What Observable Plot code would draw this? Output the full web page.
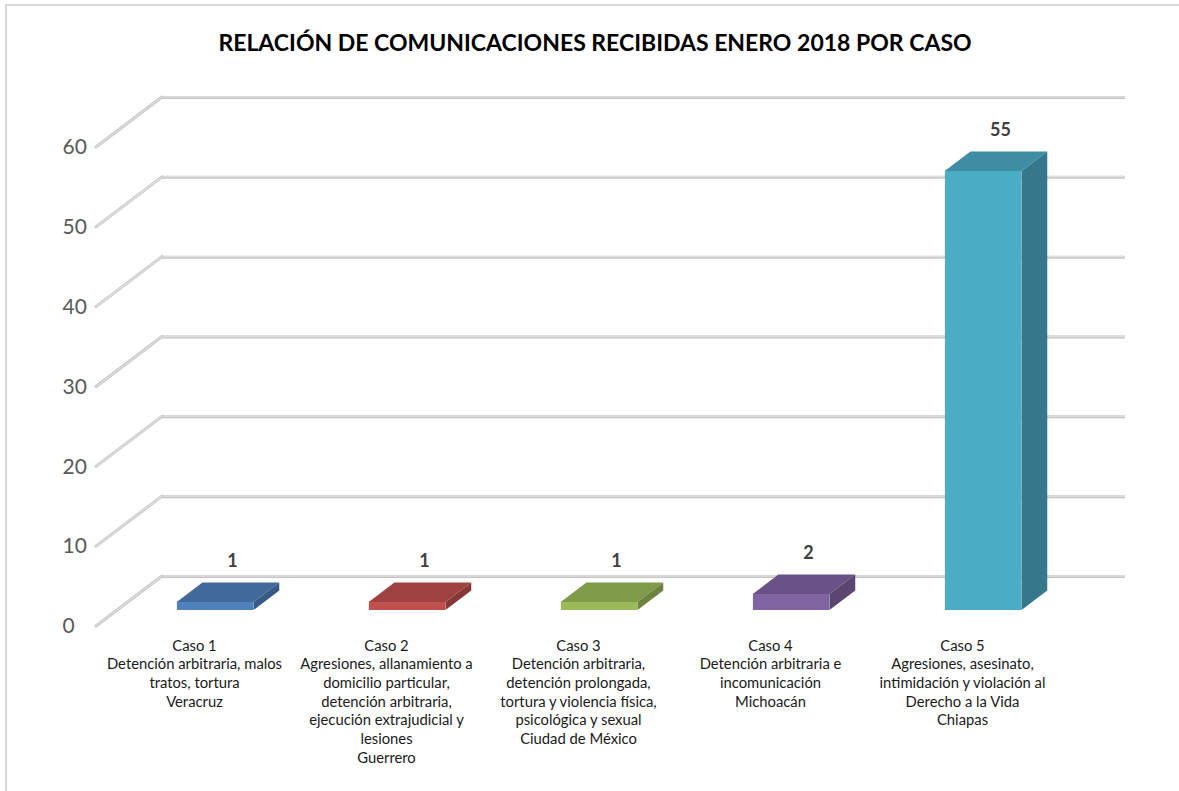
<!DOCTYPE html>
<html><head><meta charset="utf-8">
<script src="https://cdn.jsdelivr.net/npm/d3@7"></script>
<script src="https://cdn.jsdelivr.net/npm/@observablehq/plot@0.6"></script>
<style>
body{margin:0;background:#fff;font-family:Lato,sans-serif;width:1179px;height:791px;overflow:hidden;position:relative;}
#frame{position:absolute;left:5px;top:4px;width:1200px;height:820px;border-left:2px solid #d9d9d9;border-top:2px solid #d9d9d9;}
#title{position:absolute;left:0;top:29px;width:1190px;text-align:center;font-family:Lato,sans-serif;font-weight:bold;font-size:23px;line-height:1.2;color:#000;white-space:nowrap;}
#chart{position:absolute;left:0;top:70px;}
</style></head><body>
<div id="frame"></div>
<div id="title">RELACIÓN DE COMUNICACIONES RECIBIDAS ENERO 2018 POR CASO</div>
<div id="chart"></div>
<script>
const cases = ["Caso 1", "Caso 2", "Caso 3", "Caso 4", "Caso 5"];
const descriptions = [
  "Detención arbitraria, malos\ntratos, tortura",
  "Agresiones, allanamiento a\ndomicilio particular,\ndetención arbitraria,\nejecución extrajudicial y\nlesiones",
  "Detención arbitraria,\ndetención prolongada,\ntortura y violencia física,\npsicológica y sexual",
  "Detención arbitraria e\nincomunicación",
  "Agresiones, asesinato,\nintimidación y violación al\nDerecho a la Vida"
];
const states = ["Veracruz", "Guerrero", "Ciudad de México", "Michoacán", "Chiapas"];
const values = [1, 1, 1, 2, 55];
const caseColors = ["#4f81bd", "#c0504d", "#9bbb59", "#8064a2", "#4bacc6"];
const yTicks = [0, 10, 20, 30, 40, 50, 60];

const data = cases.map((c, i) => ({caso: c, value: values[i], color: caseColors[i]}));
const labelMap = new Map(cases.map((c, i) => [c, [c, descriptions[i], states[i]].join("\n")]));

// 3D projection layout (pixels)
const W = 1179, H = 721, ML = 96, MR = 120, MT = 77, MB = 165;
const DX = 66, DY = -50;      // depth of the floor/back wall
const F1 = 0.32, F2 = 0.71;   // bar front / back depth fractions
const BAR = 0.4;              // bar width as fraction of band
const bandW = (W - ML - MR) / cases.length;
const inset = bandW * (1 - BAR) / 2;

function sideGrid(index, scales, values, dims) {
  const y = scales.y;
  const g = d3.create("svg:g").attr("fill", "none");
  const x0 = dims.marginLeft;
  for (const t of yTicks) {
    g.append("path").attr("d", `M${x0},${y(t)}L${x0 + DX},${y(t) + DY}`)
      .attr("stroke", "#c4c4c4").attr("stroke-width", 3).attr("stroke-linecap", "round");
    g.append("path").attr("d", `M${x0},${y(t)}L${x0 + DX},${y(t) + DY}`)
      .attr("stroke", "#dedede").attr("stroke-width", 1.5).attr("stroke-linecap", "round");
  }
  return g.node();
}

function barDepthFaces(index, scales) {
  const {x, y} = scales;
  const g = d3.create("svg:g");
  const bw = x.bandwidth ? x.bandwidth() : bandW;
  const ox = DX * (F2 - F1), oy = DY * (F2 - F1);
  data.forEach((d) => {
    const xa = x(d.caso) + bw * (1 - BAR) / 2 + DX * F1;
    const xb = xa + bw * BAR;
    const yt = y(d.value) + DY * F1, yb = y(0) + DY * F1;
    const c = d3.color(d.color);
    g.append("path")
      .attr("d", `M${xa},${yt}L${xb},${yt}L${xb + ox},${yt + oy}L${xa + ox},${yt + oy}Z`)
      .attr("fill", c.darker(0.55).formatHex());
    g.append("path")
      .attr("d", `M${xb},${yt}L${xb + ox},${yt + oy}L${xb + ox},${yb + oy}L${xb},${yb}Z`)
      .attr("fill", c.darker(1.0).formatHex());
  });
  return g.node();
}

const chart = Plot.plot({
  width: W, height: H,
  marginLeft: ML, marginRight: MR, marginTop: MT, marginBottom: MB,
  style: {fontFamily: "Lato, sans-serif", background: "transparent", overflow: "visible"},
  x: {domain: cases, padding: 0},
  y: {domain: [0, 60]},
  color: {domain: cases, range: caseColors},
  marks: [
    Plot.ruleY(yTicks, {dx: DX, dy: DY, stroke: "#c4c4c4", strokeWidth: 3}),
    Plot.ruleY(yTicks, {dx: DX, dy: DY - 0.5, stroke: "#dedede", strokeWidth: 1.5}),
    sideGrid,
    barDepthFaces,
    Plot.barY(data, {x: "caso", y: "value", fill: "caso", insetLeft: inset, insetRight: inset, dx: DX * F1, dy: DY * F1}),
    Plot.text(data, {x: "caso", y: "value", text: d => String(d.value), dx: 38, dy: -57, fontWeight: "bold", fontSize: 18, fill: "#404040"}),
    Plot.axisY({ticks: yTicks, tickSize: 0, tickPadding: 0, textAnchor: "start", dx: -34, fontSize: 21, color: "#595959", label: null}),
    Plot.axisX({tickSize: 0, tickPadding: 11, tickFormat: c => labelMap.get(c), lineAnchor: "top", fontSize: 14.8, lineHeight: 1.26, color: "#1a1a1a", label: null})
  ]
});
document.getElementById("chart").append(chart);
</script>
</body></html>
